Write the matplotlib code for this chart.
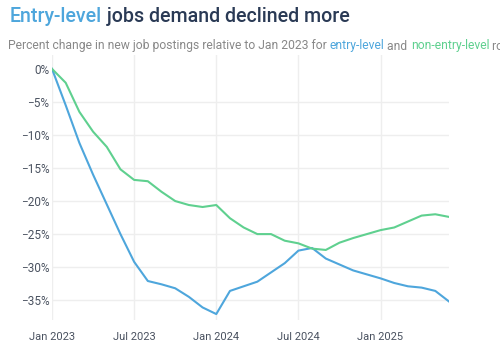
import numpy as np
import matplotlib.pyplot as plt
from matplotlib.ticker import FuncFormatter

plt.rcParams['font.family'] = ['Roboto', 'DejaVu Sans']

# monthly points, Jan 2023 .. Jun 2025
months = np.arange(30)
entry = [0, -5.5, -11.2, -16.0, -20.5, -25.0, -29.2, -32.1, -32.6, -33.2,
         -34.5, -36.1, -37.1, -33.6, -32.9, -32.2, -30.8, -29.4, -27.5, -27.1,
         -28.7, -29.6, -30.5, -31.1, -31.7, -32.4, -32.9, -33.1, -33.6, -35.2]
non_entry = [0, -2.1, -6.5, -9.5, -11.8, -15.2, -16.8, -17.0, -18.6, -20.0,
             -20.6, -20.9, -20.6, -22.6, -24.0, -25.0, -25.0, -26.0, -26.4, -27.2,
             -27.4, -26.3, -25.6, -25.0, -24.4, -24.0, -23.1, -22.2, -22.0, -22.4]
xtick_pos = [0, 6, 12, 18, 24]
xtick_labels = ['Jan 2023', 'Jul 2023', 'Jan 2024', 'Jul 2024', 'Jan 2025']
ytick_vals = [0, -5, -10, -15, -20, -25, -30, -35]

blue = '#4ea6dc'
green = '#5fd08f'
dark = '#2a3a55'
grey = '#888888'

fig = plt.figure(figsize=(5, 3.52), dpi=100)
ax = fig.add_axes([52/500, 1-320/352, (449-52)/500, (320-55)/352])

ax.plot(months, entry, color=blue, lw=1.5, solid_joinstyle='round')
ax.plot(months, non_entry, color=green, lw=1.5, solid_joinstyle='round')

ax.set_xlim(0, 29)
ax.set_ylim(-38, 2.1)
ax.set_xticks(xtick_pos)
ax.set_xticklabels(xtick_labels)
ax.set_yticks(ytick_vals)
ax.yaxis.set_major_formatter(FuncFormatter(lambda v, p: '0%' if v == 0 else '\u2212%d%%' % abs(v)))
ax.tick_params(length=0, labelsize=8.5, labelcolor='#4a5260', pad=2)
ax.tick_params(axis='x', labelsize=8, pad=9)
for lbl in ax.get_yticklabels():
    lbl.set_horizontalalignment('right')

for s in ax.spines.values():
    s.set_visible(False)
for x in xtick_pos:
    ax.axvline(x, color='#eeeeee', lw=1, zorder=0)
for y in ytick_vals[1:]:
    ax.axhline(y, color='#eeeeee', lw=1, zorder=0)

# title
t1 = fig.text(10/500, 1-16/352, 'Entry-level', color=blue, fontsize=14.1,
              fontweight='medium', va='center')
fig.canvas.draw()
ax.annotate(' jobs demand declined more', xy=(1, 0), xycoords=t1, va='bottom',
            color=dark, fontsize=14.1, fontweight='medium')

# subtitle (runs off the right edge, as in the original)
parts = [('Percent change in new job postings relative to Jan 2023 for ', grey),
         ('entry-level', blue), (' and ', grey), ('non-entry-level', green),
         (' roles', grey)]
prev = fig.text(8/500, 1-46/352, parts[0][0], color=parts[0][1], fontsize=8.7, va='center')
for txt, col in parts[1:]:
    prev = ax.annotate(txt, xy=(1, 0), xycoords=prev, va='bottom', color=col,
                       fontsize=8.7, annotation_clip=False)

fig.savefig('out.png', dpi=100)
